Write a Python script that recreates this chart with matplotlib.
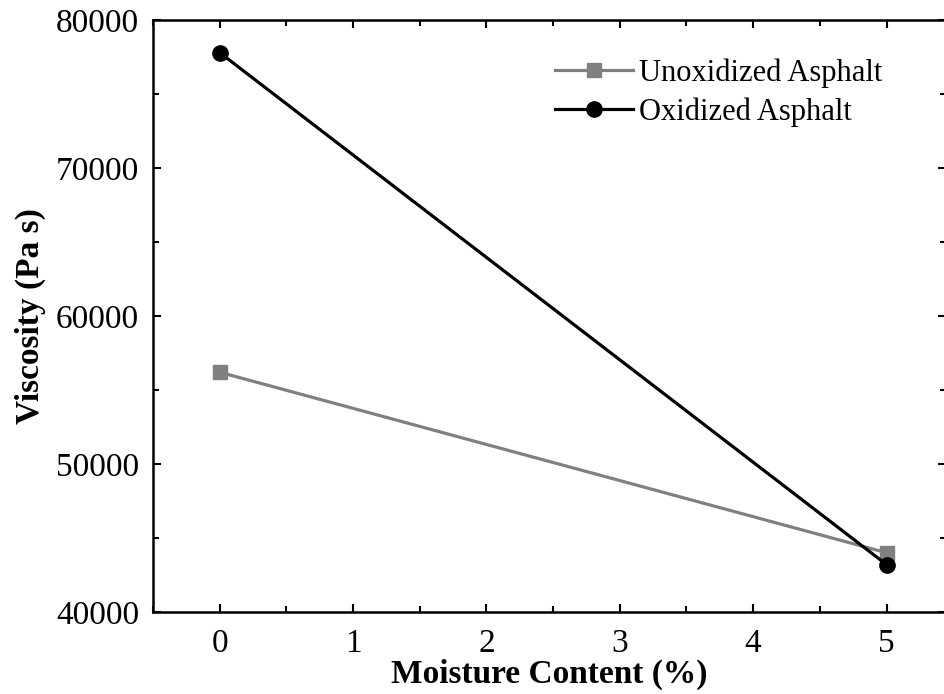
import matplotlib
matplotlib.use("Agg")
import matplotlib.pyplot as plt
from matplotlib.ticker import MultipleLocator

moisture = [0, 5]
unoxidized = [56200, 44000]
oxidized = [77800, 43200]
series_labels = ["Unoxidized Asphalt", "Oxidized Asphalt"]

plt.rcParams['font.family'] = ['Liberation Serif', 'DejaVu Serif']

fig = plt.figure(figsize=(9.44, 6.94), dpi=100)
ax = fig.add_axes([0.162, 0.1182, 0.840, 0.853])

ax.plot(moisture, unoxidized, color='#808080', lw=2.3, marker='s', ms=10,
        label=series_labels[0])
ax.plot(moisture, oxidized, color='black', lw=2.3, marker='o', ms=11,
        label=series_labels[1])

ax.set_xlim(-0.5, 5.445)
ax.set_ylim(40000, 80000)
ax.xaxis.set_major_locator(MultipleLocator(1))
ax.xaxis.set_minor_locator(MultipleLocator(0.5))
ax.yaxis.set_major_locator(MultipleLocator(10000))
ax.yaxis.set_minor_locator(MultipleLocator(5000))
ax.tick_params(which='both', direction='in', top=True, right=True, width=1.5,
               labelsize=24)
ax.tick_params(axis='y', which='both', pad=10)
ax.tick_params(axis='x', which='both', pad=12)
ax.tick_params(which='major', length=6)
ax.tick_params(which='minor', length=4)
for s in ax.spines.values():
    s.set_linewidth(1.8)

ax.set_xlabel("Moisture Content (%)", fontsize=24, fontweight='bold', labelpad=0)
ax.set_ylabel("Viscosity (Pa s)", fontsize=24, fontweight='bold', labelpad=7)

ax.legend(loc='upper left', bbox_to_anchor=(0.507, 0.935), frameon=False,
          fontsize=22, handlelength=2.55, handletextpad=0.2, labelspacing=0.3,
          borderaxespad=0.0, borderpad=0.0)

fig.savefig("out.png", dpi=100)
